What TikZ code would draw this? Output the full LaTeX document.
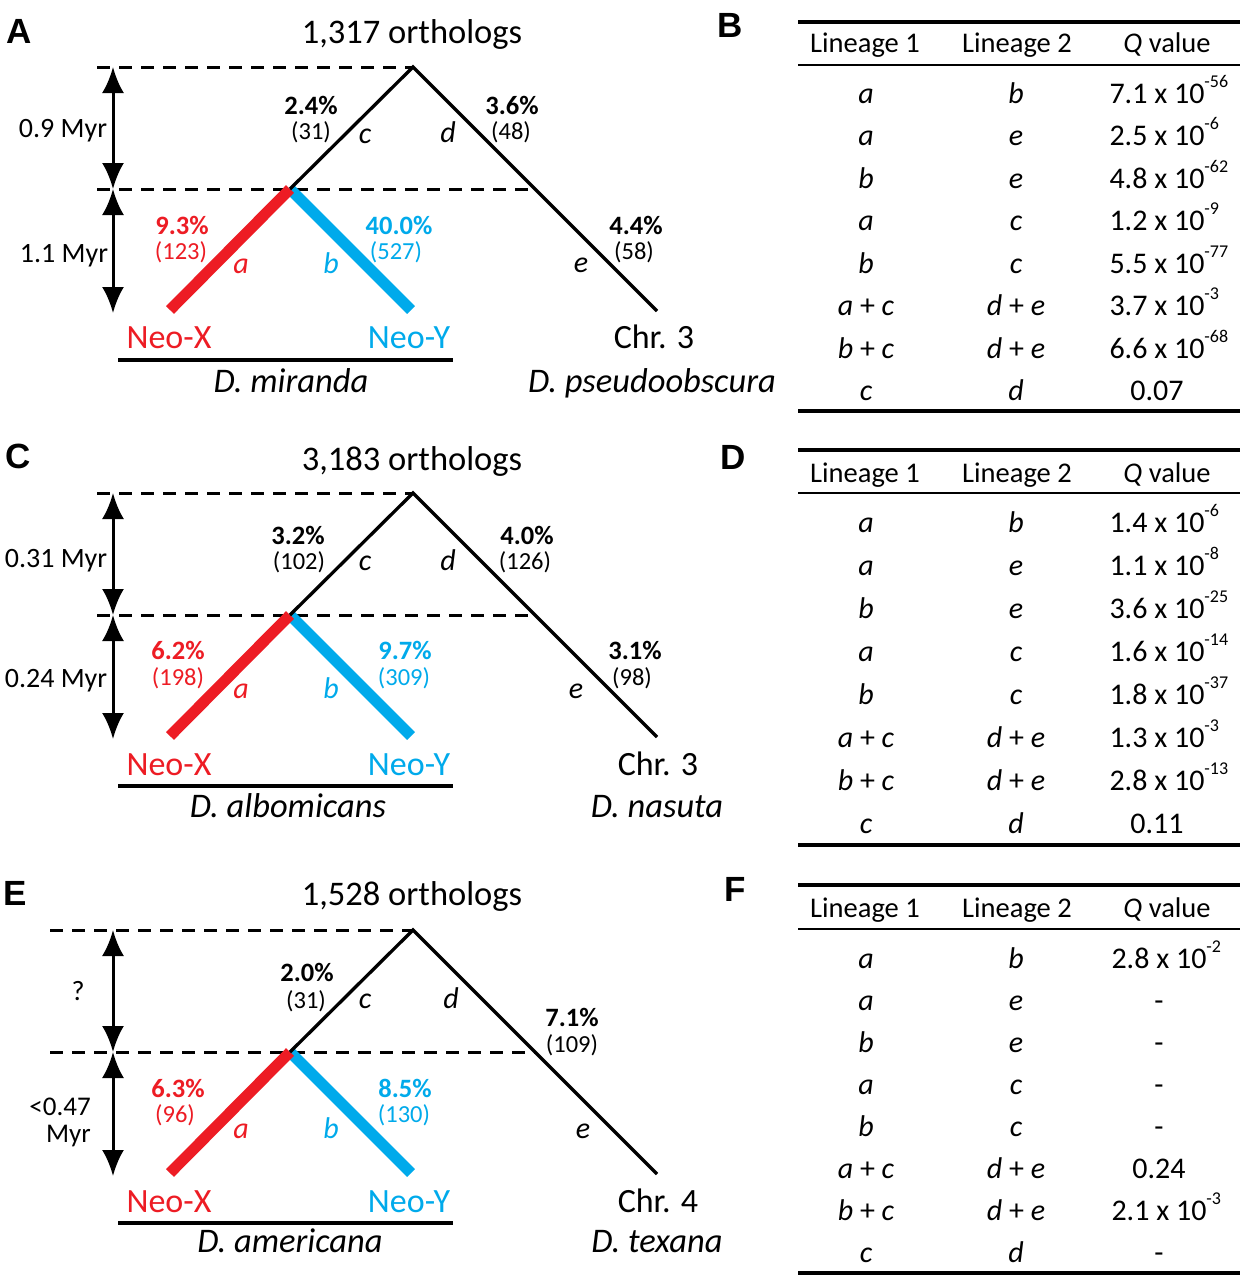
\documentclass[tikz,border=0pt]{standalone}
\usepackage{fontspec}
\setmainfont{Carlito}
\newfontfamily\panelfont{Liberation Sans}
\usetikzlibrary{arrows.meta}
\definecolor{neored}{RGB}{237,28,36}
\definecolor{neoblue}{RGB}{0,170,235}
\newcommand{\sci}[2]{#1 x 10\rlap{\raisebox{16pt}{\fontsize{18}{18}\selectfont #2}}}
\newcommand{\treeskel}[3]{%
  \coordinate (apex#1) at (413,#2+67);
  \coordinate (split#1) at (290,#2+189);
  \coordinate (nx#1) at (170,#2+310);
  \coordinate (ny#1) at (411,#2+310);
  \coordinate (chr#1) at (657,#2+311);
  \coordinate (dtl#1) at (#3,#2+67);
  \coordinate (dml#1) at (#3,#2+189);
  \coordinate (dmr#1) at (535,#2+189);
  \coordinate (at#1) at (113,#2+67);
  \coordinate (am#1) at (113,#2+189);
  \coordinate (ab#1) at (113,#2+313);
  \coordinate (ull#1) at (118,#2+360);
  \coordinate (ulr#1) at (453,#2+360);
  \draw[dashline] (dtl#1) -- (apex#1);
  \draw[dashline] (dml#1) -- (dmr#1);
  \draw[blueline] (split#1) -- (ny#1);
  \draw[redline] (split#1) -- (nx#1);
  \draw[treeline] (split#1) -- (apex#1) -- (chr#1);
  \draw[dimarrow] (at#1) -- (am#1);
  \draw[dimarrow] (am#1) -- (ab#1);
  \draw[ul] (ull#1) -- (ulr#1);
}
\tikzset{
 lbl/.style={inner sep=0pt, anchor=base},
 pct/.style={lbl, text depth=0pt, font=\fontsize{26.5}{26.5}\selectfont\bfseries},
 cnt/.style={lbl, text height=15pt, text depth=4pt, font=\fontsize{24.5}{24.5}\selectfont},
 br/.style={lbl, font=\fontsize{30}{30}\selectfont\itshape},
 titl/.style={lbl, font=\fontsize{34.5}{34.5}\selectfont},
 leaf/.style={lbl, font=\fontsize{34}{34}\selectfont},
 species/.style={lbl, font=\fontsize{34.5}{34.5}\selectfont\itshape},
 timelbl/.style={lbl, font=\fontsize{28}{28}\selectfont},
 plet/.style={inner sep=0pt, font=\fontsize{35}{35}\selectfont\panelfont\bfseries},
 tcell/.style={lbl, font=\fontsize{28.5}{28.5}\selectfont},
 qval/.style={lbl, font=\fontsize{30}{30}\selectfont},
 treeline/.style={line width=3.3pt, line join=miter},
 dashline/.style={line width=3pt, dash pattern=on 13pt off 9pt},
 redline/.style={line width=11pt, draw=neored},
 blueline/.style={line width=11pt, draw=neoblue},
 dimarrow/.style={line width=3pt, {Latex[length=26pt,width=22pt]}-{Latex[length=26pt,width=22pt]}},
 thickrule/.style={line width=3.5pt},
 thinrule/.style={line width=2pt},
 ul/.style={line width=3.5pt},
}
\begin{document}
\begin{tikzpicture}[x=1pt,y=-1pt]
\path[fill=white,use as bounding box] (0,0) rectangle (1245,1280);

% ---------------- Panel letters
\node[plet] (LA) at (19,31) {A};
\node[plet] (LB) at (730,25) {B};
\node[plet] (LC) at (18,456) {C};
\node[plet] (LD) at (733,457) {D};
\node[plet] (LE) at (15,893) {E};
\node[plet] (LF) at (735,889) {F};

% ---------------- Panel A
\treeskel{A}{0}{97}
\node[titl] (tA) at (412,43) {1,317 orthologs};
\node[timelbl] (t1A) at (63,137) {0.9 Myr};
\node[timelbl] (t2A) at (64,262) {1.1 Myr};
\node[pct] (pcA) at (311,114) {2.4\%};
\node[cnt] (ncA) at (311,139) {(31)};
\node[br] (bcA) at (365,143) {c};
\node[br] (bdA) at (448,142) {d};
\node[pct] (pdA) at (512,114) {3.6\%};
\node[cnt] (ndA) at (511,139) {(48)};
\node[pct,neored] (paA) at (182,234) {9.3\%};
\node[cnt,neored] (naA) at (181,259) {(123)};
\node[br,neored] (baA) at (241,273) {a};
\node[br,neoblue] (bbA) at (331,273) {b};
\node[pct,neoblue] (pbA) at (399,234) {40.0\%};
\node[cnt,neoblue] (nbA) at (396,259) {(527)};
\node[br] (beA) at (581,272) {e};
\node[pct] (peA) at (636,234) {4.4\%};
\node[cnt] (neA) at (634,259) {(58)};
\node[leaf,neored] (xA) at (169,348) {Neo-X};
\node[leaf,neoblue] (yA) at (409,348) {Neo-Y};
\node[leaf] (cA) at (654,348) {Chr. 3};
\node[species] (s1A) at (291,392) {D. miranda};
\node[species] (s2A) at (652,392) {D. pseudoobscura};

% ---------------- Panel C
\begin{scope}[shift={(0,426)}]
\treeskel{C}{0}{97}
\node[titl] (tC) at (412,44) {3,183 orthologs};
\node[timelbl] (t1C) at (56,141) {0.31 Myr};
\node[timelbl] (t2C) at (56,261) {0.24 Myr};
\node[pct] (pcC) at (298,118) {3.2\%};
\node[cnt] (ncC) at (299,143) {(102)};
\node[br] (bcC) at (365,144) {c};
\node[br] (bdC) at (448,144) {d};
\node[pct] (pdC) at (527,118) {4.0\%};
\node[cnt] (ndC) at (525,143) {(126)};
\node[pct,neored] (paC) at (178,233) {6.2\%};
\node[cnt,neored] (naC) at (178,259) {(198)};
\node[br,neored] (baC) at (241,272) {a};
\node[br,neoblue] (bbC) at (331,272) {b};
\node[pct,neoblue] (pbC) at (405,233) {9.7\%};
\node[cnt,neoblue] (nbC) at (404,259) {(309)};
\node[br] (beC) at (576,272) {e};
\node[pct] (peC) at (635,233) {3.1\%};
\node[cnt] (neC) at (632,259) {(98)};
\node[leaf,neored] (xC) at (169,349) {Neo-X};
\node[leaf,neoblue] (yC) at (409,349) {Neo-Y};
\node[leaf] (cC) at (658,349) {Chr. 3};
\node[species] (s1C) at (288,391) {D. albomicans};
\node[species] (s2C) at (657,391) {D. nasuta};
\end{scope}

% ---------------- Panel E
\begin{scope}[shift={(0,863)}]
\treeskel{E}{0}{50}
\node[titl] (tE) at (412,42) {1,528 orthologs};
\node[timelbl] (t1E) at (78,137) {?};
\node[timelbl,anchor=base east,text depth=0pt,font=\fontsize{27}{27}\selectfont] (t2E) at (91,252) {<0.47};
\node[timelbl,anchor=base east,text height=17pt,font=\fontsize{27}{27}\selectfont] (t3E) at (91,279) {Myr};
\node[pct] (pcE) at (307,118) {2.0\%};
\node[cnt] (ncE) at (306,145) {(31)};
\node[br] (bcE) at (365,145) {c};
\node[br] (bdE) at (451,145) {d};
\node[pct] (pdE) at (572,163) {7.1\%};
\node[cnt] (ndE) at (572,189) {(109)};
\node[pct,neored] (paE) at (178,234) {6.3\%};
\node[cnt,neored] (naE) at (175,259) {(96)};
\node[br,neored] (baE) at (241,275) {a};
\node[br,neoblue] (bbE) at (331,275) {b};
\node[pct,neoblue] (pbE) at (405,234) {8.5\%};
\node[cnt,neoblue] (nbE) at (404,259) {(130)};
\node[br] (beE) at (583,275) {e};
\node[leaf,neored] (xE) at (169,349) {Neo-X};
\node[leaf,neoblue] (yE) at (409,349) {Neo-Y};
\node[leaf] (cE) at (658,349) {Chr. 4};
\node[species] (s1E) at (290,389) {D. americana};
\node[species] (s2E) at (657,389) {D. texana};
\end{scope}

% ---------------- Table B
\coordinate (Bt1) at (798,22);  \coordinate (Bt2) at (1240,22);
\coordinate (Bh1) at (798,65);  \coordinate (Bh2) at (1240,65);
\coordinate (Bb1) at (798,411); \coordinate (Bb2) at (1240,411);
\draw[thickrule] (Bt1) -- (Bt2);
\draw[thinrule] (Bh1) -- (Bh2);
\draw[thickrule] (Bb1) -- (Bb2);
\node[tcell] (Bh-1) at (865,52) {Lineage 1};
\node[tcell] (Bh-2) at (1017,52) {Lineage 2};
\node[tcell] (Bh-3) at (1167,52) {\textit{Q} value};
\foreach \ca/\cb/\cq [count=\i] in {
  {\textit{a}}/{\textit{b}}/{\sci{7.1}{-56}},
  {\textit{a}}/{\textit{e}}/{\sci{2.5}{-6}},
  {\textit{b}}/{\textit{e}}/{\sci{4.8}{-62}},
  {\textit{a}}/{\textit{c}}/{\sci{1.2}{-9}},
  {\textit{b}}/{\textit{c}}/{\sci{5.5}{-77}},
  {\textit{a} + \textit{c}}/{\textit{d} + \textit{e}}/{\sci{3.7}{-3}},
  {\textit{b} + \textit{c}}/{\textit{d} + \textit{e}}/{\sci{6.6}{-68}},
  {\textit{c}}/{\textit{d}}/{0.07}}{
  \node[qval] (B\i-1) at (866,{103+(\i-1)*42.5}) {\ca};
  \node[qval] (B\i-2) at (1016,{103+(\i-1)*42.5}) {\cb};
  \node[qval] (B\i-3) at (1157,{103+(\i-1)*42.5}) {\cq};
}

% ---------------- Table D
\coordinate (Dt1) at (798,450);  \coordinate (Dt2) at (1240,450);
\coordinate (Dh1) at (798,493);  \coordinate (Dh2) at (1240,493);
\coordinate (Db1) at (798,845); \coordinate (Db2) at (1240,845);
\draw[thickrule] (Dt1) -- (Dt2);
\draw[thinrule] (Dh1) -- (Dh2);
\draw[thickrule] (Db1) -- (Db2);
\node[tcell] (Dh-1) at (865,482) {Lineage 1};
\node[tcell] (Dh-2) at (1017,482) {Lineage 2};
\node[tcell] (Dh-3) at (1167,482) {\textit{Q} value};
\foreach \ca/\cb/\cq [count=\i] in {
  {\textit{a}}/{\textit{b}}/{\sci{1.4}{-6}},
  {\textit{a}}/{\textit{e}}/{\sci{1.1}{-8}},
  {\textit{b}}/{\textit{e}}/{\sci{3.6}{-25}},
  {\textit{a}}/{\textit{c}}/{\sci{1.6}{-14}},
  {\textit{b}}/{\textit{c}}/{\sci{1.8}{-37}},
  {\textit{a} + \textit{c}}/{\textit{d} + \textit{e}}/{\sci{1.3}{-3}},
  {\textit{b} + \textit{c}}/{\textit{d} + \textit{e}}/{\sci{2.8}{-13}},
  {\textit{c}}/{\textit{d}}/{0.11}}{
  \node[qval] (D\i-1) at (866,{532+(\i-1)*43}) {\ca};
  \node[qval] (D\i-2) at (1016,{532+(\i-1)*43}) {\cb};
  \node[qval] (D\i-3) at (1157,{532+(\i-1)*43}) {\cq};
}

% ---------------- Table F
\coordinate (Ft1) at (798,885);  \coordinate (Ft2) at (1240,885);
\coordinate (Fh1) at (798,929);  \coordinate (Fh2) at (1240,929);
\coordinate (Fb1) at (798,1273); \coordinate (Fb2) at (1240,1273);
\draw[thickrule] (Ft1) -- (Ft2);
\draw[thinrule] (Fh1) -- (Fh2);
\draw[thickrule] (Fb1) -- (Fb2);
\node[tcell] (Fh-1) at (865,917) {Lineage 1};
\node[tcell] (Fh-2) at (1017,917) {Lineage 2};
\node[tcell] (Fh-3) at (1167,917) {\textit{Q} value};
\foreach \ca/\cb/\cq [count=\i] in {
  {\textit{a}}/{\textit{b}}/{\sci{2.8}{-2}},
  {\textit{a}}/{\textit{e}}/{-},
  {\textit{b}}/{\textit{e}}/{-},
  {\textit{a}}/{\textit{c}}/{-},
  {\textit{b}}/{\textit{c}}/{-},
  {\textit{a} + \textit{c}}/{\textit{d} + \textit{e}}/{0.24},
  {\textit{b} + \textit{c}}/{\textit{d} + \textit{e}}/{\sci{2.1}{-3}},
  {\textit{c}}/{\textit{d}}/{-}}{
  \node[qval] (F\i-1) at (866,{968+(\i-1)*42}) {\ca};
  \node[qval] (F\i-2) at (1016,{968+(\i-1)*42}) {\cb};
  \node[qval] (F\i-3) at (1159,{968+(\i-1)*42}) {\cq};
}
\end{tikzpicture}
\end{document}
